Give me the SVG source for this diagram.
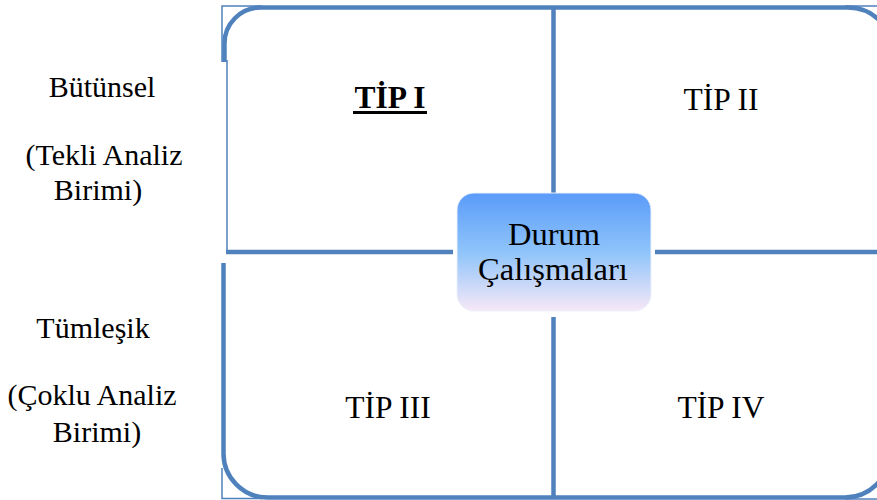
<svg xmlns="http://www.w3.org/2000/svg" width="877" height="500" viewBox="0 0 877 500">
<style>
.thick{fill:none;stroke:#4F81BD;stroke-width:4.5}
.thin{fill:none;stroke:#4F81BD;stroke-width:1.5}
.t{font-family:'Liberation Serif','DejaVu Serif',serif;font-size:30px;fill:#000;text-anchor:middle}
.q{font-size:31.5px}
.c{font-size:32.5px}
</style>
<defs>
<linearGradient id="g" x1="0" y1="0" x2="0" y2="1">
<stop offset="0" stop-color="#5A9BF9"/>
<stop offset="0.5" stop-color="#8FC4FA"/>
<stop offset="1" stop-color="#F7E8F7"/>
</linearGradient>
</defs>
<rect width="877" height="500" fill="#fff"/>
<g id="connectors">
<polyline class="thin" points="222,62 222,6 262,6"/>
<line class="thin" x1="845" y1="6" x2="877" y2="6"/>
<polyline class="thin" points="222,468 222,498.5 262,498.5"/>
<line class="thin" x1="845" y1="499" x2="877" y2="499"/>
<line class="thin" x1="227" y1="60" x2="227" y2="250"/>
<path class="thick" d="M224.5,62 L224.5,44 A36,36 0 0 1 260.5,7.5 L848,7.5 A45,45 0 0 1 893,52"/>
<path class="thick" d="M223.5,263 L223.5,453 A44,44 0 0 0 267.5,497.5 L845,497.5 A45,45 0 0 0 890,452"/>
<line class="thick" x1="553.5" y1="7.5" x2="553.5" y2="193"/>
<line class="thick" x1="553.5" y1="317" x2="553.5" y2="497.5"/>
<line class="thick" x1="226" y1="252" x2="453" y2="252" stroke-width="5"/>
<line class="thick" x1="655" y1="252" x2="877" y2="252" stroke-width="5"/>
</g>
<g id="tip1">
<text class="t q" x="390" y="108" font-weight="bold">TİP I</text>
<line x1="353" y1="112.5" x2="427" y2="112.5" stroke="#000" stroke-width="3"/>
</g>
<g id="tip2"><text class="t q" x="721" y="110">TİP II</text></g>
<g id="tip3"><text class="t q" x="388" y="418">TİP III</text></g>
<g id="tip4"><text class="t q" x="721" y="418">TİP IV</text></g>
<g id="center">
<rect x="457" y="193" width="194" height="118" rx="17" fill="url(#g)" stroke="#EAF0FA" stroke-width="1"/>
<text class="t c" x="554" y="245">Durum</text>
<text class="t c" x="553" y="280">Çalışmaları</text>
</g>
<g id="label-top">
<text class="t" x="102" y="97">Bütünsel</text>
<text class="t" x="104" y="165">(Tekli Analiz</text>
<text class="t" x="98" y="200">Birimi)</text>
</g>
<g id="label-bottom">
<text class="t" x="93" y="338">Tümleşik</text>
<text class="t" x="92" y="405">(Çoklu Analiz</text>
<text class="t" x="97" y="442">Birimi)</text>
</g>
</svg>
